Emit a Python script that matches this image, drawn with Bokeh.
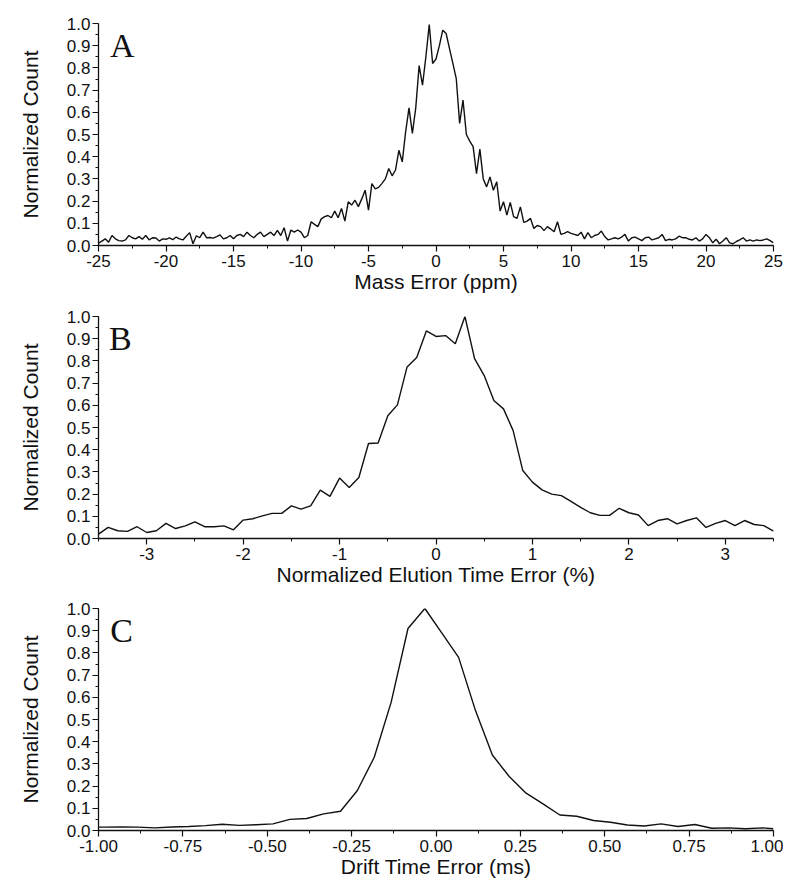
import numpy as np
from bokeh.plotting import figure
from bokeh.layouts import column
from bokeh.models import Range1d, SingleIntervalTicker, PrintfTickFormatter, Label
from bokeh.embed import file_html
from bokeh.resources import INLINE

# ---------------- data ----------------
# Panel A: mass error histogram (0.25 ppm bins from -25 to 25)
mass_err_ppm = np.round(np.arange(-25.0, 25.001, 0.25), 2)
mass_count = [
    0.010, 0.020, 0.030, 0.015, 0.045, 0.030, 0.022, 0.020, 0.025, 0.045,
    0.035, 0.030, 0.040, 0.028, 0.045, 0.025, 0.035, 0.034, 0.020, 0.030,
    0.028, 0.034, 0.026, 0.038, 0.030, 0.025, 0.042, 0.058, 0.008, 0.044,
    0.035, 0.060, 0.035, 0.036, 0.033, 0.040, 0.048, 0.030, 0.035, 0.045,
    0.030, 0.045, 0.050, 0.040, 0.060, 0.045, 0.035, 0.050, 0.060, 0.040,
    0.050, 0.060, 0.045, 0.068, 0.045, 0.080, 0.020, 0.070, 0.060, 0.070,
    0.060, 0.035, 0.045, 0.107, 0.095, 0.085, 0.120, 0.130, 0.135, 0.125,
    0.155, 0.125, 0.167, 0.110, 0.197, 0.182, 0.204, 0.175, 0.210, 0.249,
    0.159, 0.279, 0.255, 0.262, 0.280, 0.300, 0.347, 0.314, 0.340, 0.429,
    0.377, 0.512, 0.620, 0.505, 0.620, 0.810, 0.722, 0.850, 0.995, 0.820,
    0.840, 0.900, 0.970, 0.955, 0.887, 0.820, 0.752, 0.550, 0.655, 0.500,
    0.470, 0.445, 0.324, 0.434, 0.300, 0.264, 0.309, 0.249, 0.287, 0.155,
    0.197, 0.137, 0.194, 0.130, 0.122, 0.174, 0.104, 0.110, 0.122, 0.077,
    0.090, 0.085, 0.067, 0.085, 0.074, 0.062, 0.107, 0.050, 0.055, 0.062,
    0.055, 0.050, 0.045, 0.060, 0.030, 0.058, 0.035, 0.045, 0.050, 0.065,
    0.040, 0.025, 0.030, 0.035, 0.030, 0.038, 0.050, 0.020, 0.035, 0.038,
    0.030, 0.022, 0.035, 0.038, 0.025, 0.030, 0.035, 0.050, 0.022, 0.028,
    0.025, 0.030, 0.042, 0.035, 0.035, 0.028, 0.025, 0.035, 0.020, 0.030,
    0.050, 0.035, 0.012, 0.028, 0.008, 0.020, 0.035, 0.012, 0.008, 0.018,
    0.025, 0.035, 0.020, 0.025, 0.020, 0.025, 0.022, 0.025, 0.030, 0.022,
    0.012,
]

# Panel B: normalized elution time error (0.1 % bins from -3.5 to 3.5)
net_err_pct = np.round(np.arange(-3.5, 3.5001, 0.1), 1)
net_count = [
    0.020, 0.050, 0.035, 0.032, 0.053, 0.027, 0.035, 0.068, 0.045, 0.057,
    0.075, 0.053, 0.053, 0.057, 0.039, 0.083, 0.089, 0.102, 0.113, 0.113,
    0.147, 0.132, 0.147, 0.218, 0.190, 0.272, 0.230, 0.275, 0.428, 0.430,
    0.553, 0.602, 0.773, 0.815, 0.935, 0.910, 0.914, 0.877, 1.000, 0.810,
    0.734, 0.622, 0.584, 0.486, 0.306, 0.254, 0.219, 0.200, 0.193, 0.167,
    0.140, 0.116, 0.104, 0.104, 0.136, 0.116, 0.106, 0.058, 0.081, 0.089,
    0.066, 0.081, 0.093, 0.050, 0.068, 0.081, 0.058, 0.081, 0.063, 0.058,
    0.033,
]

# Panel C: drift time error (ms)
drift_err_ms = [
    -1.000, -0.983, -0.933, -0.883, -0.833, -0.783, -0.733, -0.683, -0.633, -0.583,
    -0.533, -0.483, -0.433, -0.383, -0.333, -0.283, -0.233, -0.183, -0.133, -0.083,
    -0.033, 0.017, 0.067, 0.117, 0.167, 0.217, 0.267, 0.317, 0.367, 0.417,
    0.467, 0.517, 0.567, 0.617, 0.667, 0.717, 0.767, 0.817, 0.867, 0.917,
    0.967, 1.000,
]
drift_count = [
    0.015, 0.015, 0.016, 0.015, 0.012, 0.016, 0.018, 0.022, 0.028, 0.023,
    0.026, 0.030, 0.050, 0.054, 0.075, 0.087, 0.180, 0.330, 0.577, 0.910,
    1.000, 0.890, 0.780, 0.540, 0.340, 0.243, 0.168, 0.120, 0.070, 0.064,
    0.045, 0.037, 0.025, 0.020, 0.030, 0.018, 0.027, 0.010, 0.012, 0.008,
    0.012, 0.008,
]

panels = [
    dict(x=mass_err_ppm, y=mass_count, xr=(-25, 25), xint=5, fmt="%d",
         xlabel="Mass Error (ppm)", letter="A", lx=-24.15,
         height=295, top=23),
    dict(x=net_err_pct, y=net_count, xr=(-3.5, 3.5), xint=1, fmt="%d",
         xlabel="Normalized Elution Time Error (%)", letter="B", lx=-3.39,
         height=293, top=21),
    dict(x=drift_err_ms, y=drift_count, xr=(-1.0, 1.0), xint=0.25, fmt="%.2f",
         xlabel="Drift Time Error (ms)", letter="C", lx=-0.965,
         height=292, top=20),
]

SANS = "Liberation Sans"
SERIF = "Liberation Serif"
LETTER_Y = 0.90

figs = []
for pan in panels:
    p = figure(width=783, height=pan["height"], output_backend="svg",
               toolbar_location=None,
               x_range=Range1d(*pan["xr"]), y_range=Range1d(0.0, 1.0),
               min_border_left=98, min_border_right=10,
               min_border_top=pan["top"], min_border_bottom=50)
    p.outline_line_color = None
    p.xgrid.visible = False
    p.ygrid.visible = False
    p.background_fill_color = "white"
    p.border_fill_color = "white"

    p.line(pan["x"], pan["y"], line_color="#111111", line_width=1.4)

    p.xaxis.ticker = SingleIntervalTicker(interval=pan["xint"], num_minor_ticks=2)
    p.xaxis.formatter = PrintfTickFormatter(format=pan["fmt"])
    p.yaxis.ticker = SingleIntervalTicker(interval=0.1, num_minor_ticks=2)
    p.yaxis.formatter = PrintfTickFormatter(format="%.1f")

    for ax in (p.xaxis, p.yaxis):
        ax.axis_line_color = "#111111"
        ax.axis_line_width = 1.3
        ax.major_tick_line_color = "#111111"
        ax.minor_tick_line_color = "#111111"
        ax.major_tick_line_width = 1.2
        ax.minor_tick_line_width = 1.0
        ax.major_tick_in = 0
        ax.major_tick_out = 6
        ax.minor_tick_in = 0
        ax.minor_tick_out = 3
        ax.major_label_text_font = SANS
        ax.major_label_text_font_size = "17px"
        ax.major_label_text_color = "#111111"
        ax.axis_label_text_font = SANS
        ax.axis_label_text_font_size = "21px"
        ax.axis_label_text_font_style = "normal"
        ax.axis_label_text_color = "#111111"

    p.xaxis.axis_label = pan["xlabel"]
    p.xaxis.major_label_standoff = 3
    p.xaxis.axis_label_standoff = 0
    p.yaxis.axis_label = "Normalized Count"
    p.yaxis.major_label_standoff = 2
    p.yaxis.axis_label_standoff = 22

    p.add_layout(Label(x=pan["lx"], y=LETTER_Y, text=pan["letter"],
                       text_font=SERIF, text_font_size="34px",
                       text_color="#111111", text_baseline="alphabetic"))
    figs.append(p)

layout = column(*figs, spacing=0)
open("out.html", "w").write(file_html(layout, INLINE))
